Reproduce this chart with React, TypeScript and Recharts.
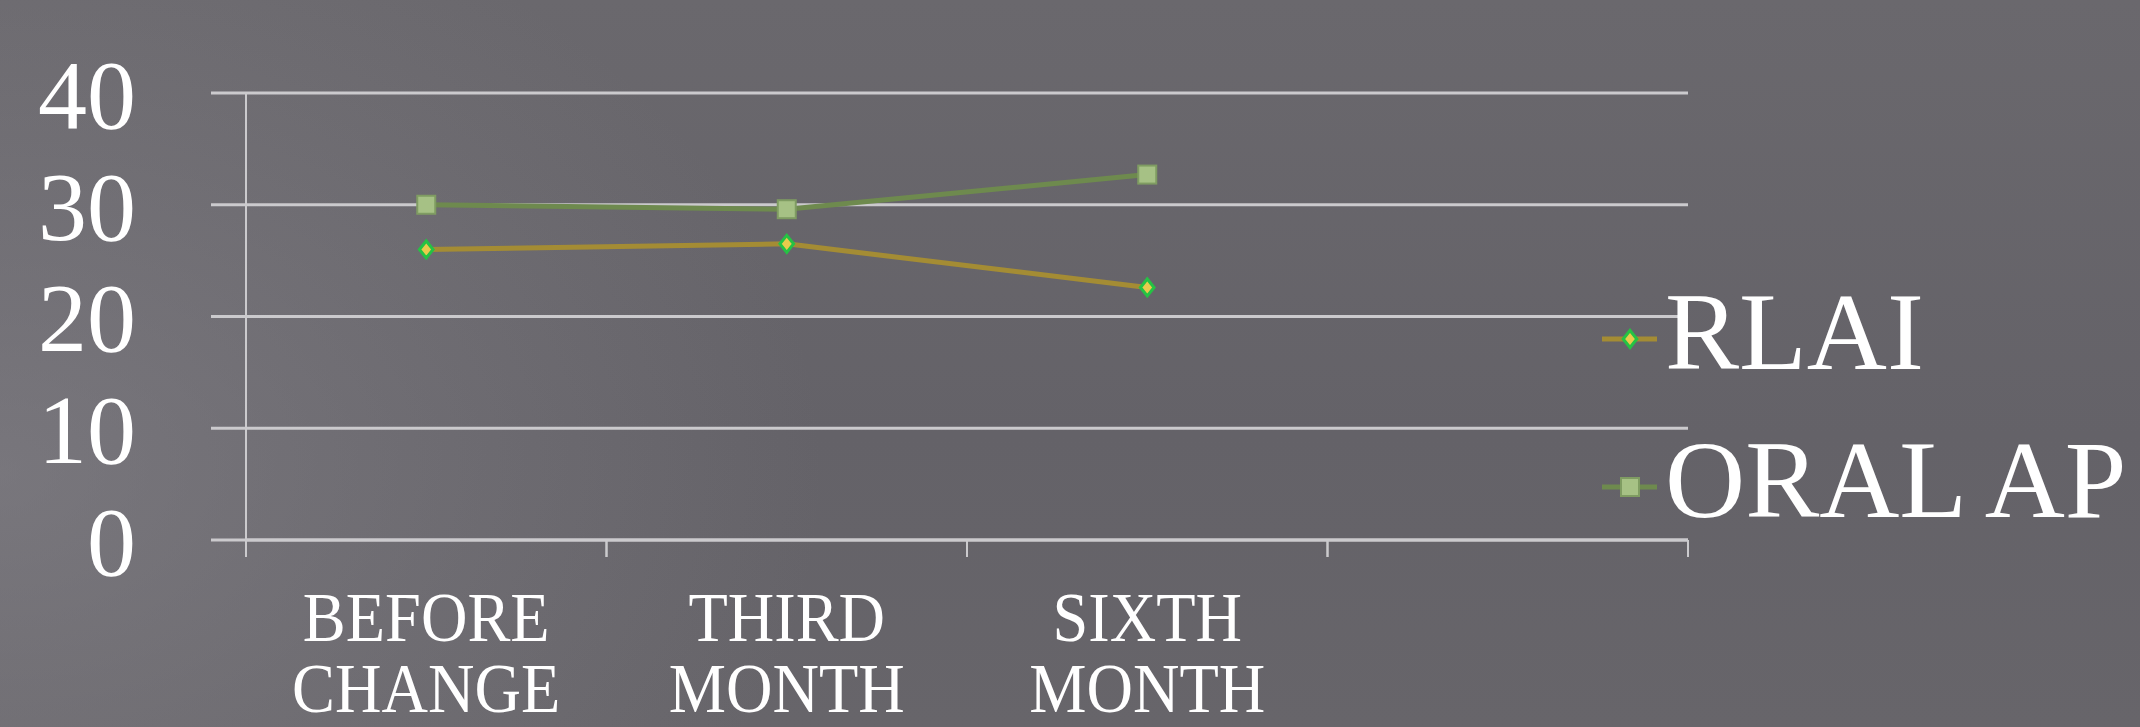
import React from "react";
import { LineChart, Line, XAxis, YAxis, CartesianGrid, Legend } from "recharts";

const categories = ["BEFORE CHANGE", "THIRD MONTH", "SIXTH MONTH", ""];
const rlai = [26.0, 26.5, 22.6, null];
const oralAp = [30.0, 29.6, 32.7, null];
const yTicks = [0, 10, 20, 30, 40];

const data = categories.map((c, i) => ({ cat: c, RLAI: rlai[i], ORAL: oralAp[i] }));

const W = 2140;
const H = 727;
const PLOT_LEFT = 246;
const PLOT_RIGHT = 1688;
const PLOT_TOP = 93;
const PLOT_BOTTOM = 540;
const BAND_HALF = (PLOT_RIGHT - PLOT_LEFT) / categories.length / 2;

const FONT = "'Liberation Serif', 'Times New Roman', serif";
const GRID = "#cbcacd";
const RLAI_LINE = "#a48c34";
const RLAI_FILL = "#e9cb4c";
const RLAI_STROKE = "#25c244";
const ORAL_LINE = "#6e8a4e";
const ORAL_FILL = "#a6c185";
const ORAL_STROKE = "#7f9c62";

const Diamond = ({ cx, cy }: any) => {
  if (cx == null || cy == null) return null;
  const r = 8.5;
  return (
    <path
      d={`M${cx},${cy - r}L${cx + r * 0.8},${cy}L${cx},${cy + r}L${cx - r * 0.8},${cy}Z`}
      fill={RLAI_FILL}
      stroke={RLAI_STROKE}
      strokeWidth={3}
    />
  );
};

const Square = ({ cx, cy }: any) => {
  if (cx == null || cy == null) return null;
  const s = 18;
  return (
    <rect x={cx - s / 2} y={cy - s / 2} width={s} height={s} fill={ORAL_FILL} stroke={ORAL_STROKE} strokeWidth={2} />
  );
};

const CatTick = ({ x, y, payload }: any) => {
  const words = String(payload.value).split(" ").filter(Boolean);
  return (
    <g transform={`translate(${x},${y})`}>
      <line x1={-BAND_HALF} x2={-BAND_HALF} y1={0} y2={17} stroke={GRID} strokeWidth={2} />
      <line x1={BAND_HALF} x2={BAND_HALF} y1={0} y2={17} stroke={GRID} strokeWidth={2} />
      {words.length > 0 && (
        <g transform="scale(0.92,1)">
          <text x={0} y={101} textAnchor="middle" fill="#ffffff" fontFamily={FONT} fontSize={70}>
            {words.map((w: string, i: number) => (
              <tspan key={i} x={0} dy={i === 0 ? 0 : 71}>
                {w}
              </tspan>
            ))}
          </text>
        </g>
      )}
    </g>
  );
};

const legendItems = [
  { name: "RLAI", line: RLAI_LINE, marker: "diamond" },
  { name: "ORAL AP", line: ORAL_LINE, marker: "square" },
];

const LegendContent = () => (
  <svg width={550} height={300} style={{ display: "block" }}>
    {legendItems.map((it, i) => {
      const cy = 69 + i * 148;
      return (
        <g key={it.name}>
          <line x1={12} x2={67} y1={cy} y2={cy} stroke={it.line} strokeWidth={5} />
          {it.marker === "diamond" ? <Diamond cx={40} cy={cy} /> : <Square cx={40} cy={cy} />}
          <text x={75} y={99 + i * 148} fill="#ffffff" fontFamily={FONT} fontSize={111}>
            {it.name}
          </text>
        </g>
      );
    })}
  </svg>
);

export default function App() {
  return (
    <div
      style={{
        position: "absolute",
        left: 0,
        top: 0,
        width: W,
        height: H,
        overflow: "hidden",
        background:
          "radial-gradient(ellipse 55% 120% at 0% 65%, rgba(140,138,144,0.5) 0%, rgba(110,108,114,0) 70%), linear-gradient(180deg, #6a686d 0%, #646268 60%, #67656a 100%)",
      }}
    >
      <LineChart
        width={W}
        height={H}
        data={data}
        margin={{ top: PLOT_TOP, right: W - PLOT_RIGHT, left: 0, bottom: 0 }}
      >
        <CartesianGrid horizontal={true} vertical={false} stroke={GRID} strokeWidth={2.8} />
        <XAxis
          dataKey="cat"
          type="category"
          height={H - PLOT_BOTTOM}
          padding={{ left: BAND_HALF, right: BAND_HALF }}
          tickLine={false}
          axisLine={{ stroke: GRID, strokeWidth: 2.8 }}
          tickSize={0}
          tickMargin={0}
          interval={0}
          tick={<CatTick />}
        />
        <YAxis
          domain={[0, 40]}
          ticks={yTicks}
          interval={0}
          width={PLOT_LEFT}
          tickSize={35}
          tickMargin={75}
          tickLine={{ stroke: GRID, strokeWidth: 2.8 }}
          axisLine={{ stroke: GRID, strokeWidth: 2 }}
          tick={{ fill: "#ffffff", fontFamily: FONT, fontSize: 98 }}
        />
        <Legend
          layout="vertical"
          align="center"
          verticalAlign="middle"
          content={<LegendContent />}
          wrapperStyle={{ left: 1590, top: 270, width: 550, height: 300 }}
        />
        <Line
          dataKey="RLAI"
          name="RLAI"
          stroke={RLAI_LINE}
          strokeWidth={5}
          dot={<Diamond />}
          activeDot={false}
          isAnimationActive={false}
        />
        <Line
          dataKey="ORAL"
          name="ORAL AP"
          stroke={ORAL_LINE}
          strokeWidth={5}
          dot={<Square />}
          activeDot={false}
          isAnimationActive={false}
        />
      </LineChart>
    </div>
  );
}
